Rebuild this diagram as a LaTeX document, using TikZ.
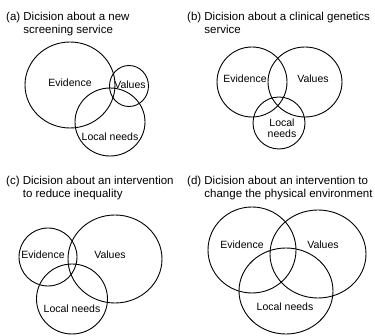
\documentclass[tikz,border=0pt]{standalone}
\usepackage{fontspec}
\setmainfont{Liberation Sans}
\usetikzlibrary{shapes.geometric}

\begin{document}
\begin{tikzpicture}[x=1pt, y=-1pt,
    ring/.style={ellipse, draw, line width=0.9pt, inner sep=0pt},
    lbl/.style={inner sep=0pt, font=\fontsize{10.5}{11}\selectfont, align=center},
    title/.style={anchor=north west, inner sep=0pt, align=left,
        font=\fontsize{11.5}{12.5}\selectfont}
]
\useasboundingbox (0,0) rectangle (375,336);

% (a) screening service
\node[title] (ta) at (6,12) {(a) Dicision about a new\\\phantom{(a) }screening service};
\node[ring, minimum width=90pt, minimum height=86pt] (aEv) at (70,85) {};
\node[ring, minimum width=39pt, minimum height=41pt] (aVa) at (129,86) {};
\node[ring, minimum width=70pt, minimum height=68pt] (aLo) at (110,122) {};
\node[lbl] (aEvT) at (70,83) {Evidence};
\node[lbl] (aVaT) at (130,85) {Values};
\node[lbl] (aLoT) at (110,137) {Local needs};

% (b) clinical genetics service
\node[title] (tb) at (187,12) {(b) Dicision about a clinical genetics\\\phantom{(b) }service};
\node[ring, minimum width=70pt, minimum height=70pt] (bEv) at (252,82) {};
\node[ring, minimum width=74pt, minimum height=70pt] (bVa) at (305,82) {};
\node[ring, minimum width=52pt, minimum height=52pt] (bLo) at (279,123) {};
\node[lbl] (bEvT) at (245,79) {Evidence};
\node[lbl] (bVaT) at (313,79) {Values};
\node[lbl] (bLoT) at (282,128) {Local\\needs};

% (c) reduce inequality
\node[title] (tc) at (6,176) {(c) Dicision about an intervention\\\phantom{(c) }to reduce inequality};
\node[ring, minimum width=58pt, minimum height=58pt] (cEv) at (48,257) {};
\node[ring, minimum width=94pt, minimum height=88pt] (cVa) at (115,259) {};
\node[ring, minimum width=71pt, minimum height=70pt] (cLo) at (72,299) {};
\node[lbl] (cEvT) at (43,255) {Evidence};
\node[lbl] (cVaT) at (110,255) {Values};
\node[lbl] (cLoT) at (72,309) {Local needs};

% (d) physical environment
\node[title] (td) at (187,176) {(d) Dicision about an intervention to\\\phantom{(d) }change the physical environment};
\node[ring, minimum width=88pt, minimum height=86pt] (dEv) at (252,250) {};
\node[ring, minimum width=96pt, minimum height=88pt] (dVa) at (318,254) {};
\node[ring, minimum width=94pt, minimum height=86pt] (dLo) at (286,291) {};
\node[lbl] (dEvT) at (242,245) {Evidence};
\node[lbl] (dVaT) at (323,245) {Values};
\node[lbl] (dLoT) at (285,307) {Local needs};
\end{tikzpicture}
\end{document}
